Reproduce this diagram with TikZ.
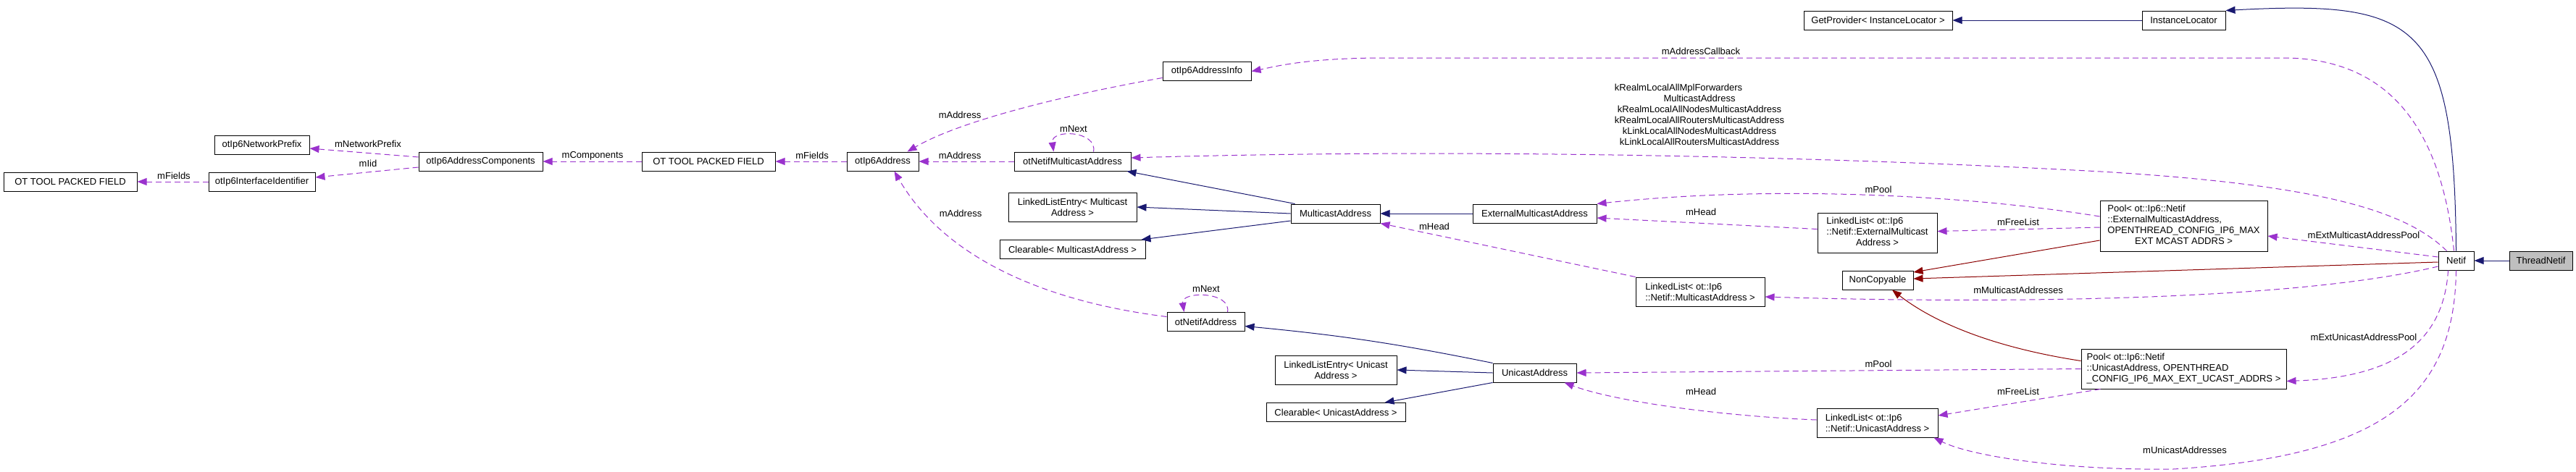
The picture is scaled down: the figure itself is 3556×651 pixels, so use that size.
\documentclass[tikz,border=0pt]{standalone}
\usepackage{fontspec}
\setmainfont{Liberation Sans}
\usetikzlibrary{arrows.meta}
\definecolor{cInherit}{RGB}{25, 25, 112}
\definecolor{cPrivate}{RGB}{139, 0, 0}
\definecolor{cUsage}{RGB}{154, 50, 205}
\definecolor{cFocus}{RGB}{191, 191, 191}
\newcommand{\dxFont}{\fontsize{13}{15}\selectfont}

\begin{document}
\begin{tikzpicture}[
    x=1pt,
    y=-1pt,
    font=\dxFont,
    classBox/.style={draw=black, fill=white, line width=1pt, minimum height=26pt, inner xsep=2pt, inner ysep=1pt, align=center},
    inheritEdge/.style={draw=cInherit, line width=1pt, -{Triangle[length=13pt, width=10pt]}},
    privateEdge/.style={draw=cPrivate, line width=1pt, -{Triangle[length=13pt, width=10pt]}},
    usageEdge/.style={draw=cUsage, line width=1pt, dash pattern=on 8pt off 5pt, -{Triangle[length=13pt, width=10pt]}},
    edgeLabel/.style={inner sep=0pt, align=center}
]

    \useasboundingbox (0,0) rectangle (3556,651);

    % --- Klassen links ---
    \node (otPackedA) at (97,251) [classBox, minimum width=184pt] {OT TOOL PACKED FIELD};
    \node (ifaceId) at (361.5,251) [classBox, minimum width=147pt] {otIp6InterfaceIdentifier};
    \node (netPrefix) at (361.5,200) [classBox, minimum width=131pt] {otIp6NetworkPrefix};
    \node (addrComp) at (663.5,223) [classBox, minimum width=171pt] {otIp6AddressComponents};
    \node (otPackedB) at (978,223) [classBox, minimum width=184pt] {OT TOOL PACKED FIELD};
    \node (ip6Addr) at (1218.5,223) [classBox, minimum width=99pt] {otIp6Address};
    \node (addrInfo) at (1666,98.5) [classBox, minimum width=122pt] {otIp6AddressInfo};

    % --- Multicast ---
    \node (netifMcast) at (1480.5,223) [classBox, minimum width=161pt] {otNetifMulticastAddress};
    \node (llEntryMcast) at (1480.5,286) [classBox, minimum width=177pt, minimum height=40pt] {LinkedListEntry< Multicast\\Address >};
    \node (clearMcast) at (1480.5,344.5) [classBox, minimum width=201pt] {Clearable< MulticastAddress >};
    \node (mcastAddr) at (1843.5,295) [classBox, minimum width=123pt] {MulticastAddress};
    \node (extMcast) at (2118.5,295) [classBox, minimum width=171pt] {ExternalMulticastAddress};
    \node (llExtMcast) at (2591.5,321.5) [classBox, minimum width=165pt, minimum height=55pt] {\begin{tabular}{@{}l@{}}LinkedList< ot::Ip6\\::Netif::ExternalMulticast\\\multicolumn{1}{@{}c@{}}{Address >}\end{tabular}};
    \node (llMcast) at (2347,403) [classBox, minimum width=178pt, minimum height=40pt, align=left] {LinkedList< ot::Ip6\\::Netif::MulticastAddress >};

    % --- Unicast ---
    \node (netifAddr) at (1664.5,444.5) [classBox, minimum width=107pt] {otNetifAddress};
    \node (llEntryUcast) at (1844,511) [classBox, minimum width=168pt, minimum height=40pt] {LinkedListEntry< Unicast\\Address >};
    \node (clearUcast) at (1844,569.5) [classBox, minimum width=192pt] {Clearable< UnicastAddress >};
    \node (ucastAddr) at (2118.5,515) [classBox, minimum width=115pt] {UnicastAddress};
    \node (llUcast) at (2591.5,584) [classBox, minimum width=167pt, minimum height=40pt, align=left] {LinkedList< ot::Ip6\\::Netif::UnicastAddress >};

    % --- Pools, Basis, Netif ---
    \node (nonCopy) at (2592,387) [classBox, minimum width=98pt] {NonCopyable};
    \node (poolExt) at (3014.5,312) [classBox, minimum width=231pt, minimum height=70pt] {\begin{tabular}{@{}l@{}}Pool< ot::Ip6::Netif\\::ExternalMulticastAddress,\\\multicolumn{1}{@{}c@{}}{OPENTHREAD\_CONFIG\_IP6\_MAX}\\\multicolumn{1}{@{}c@{}}{EXT MCAST ADDRS >}\end{tabular}};
    \node (poolUcast) at (3014.5,509.5) [classBox, minimum width=283pt, minimum height=55pt, align=left] {Pool< ot::Ip6::Netif\\::UnicastAddress, OPENTHREAD\\\_CONFIG\_IP6\_MAX\_EXT\_UCAST\_ADDRS >};
    \node (getProv) at (2592.5,28) [classBox, minimum width=205pt] {GetProvider< InstanceLocator >};
    \node (instLoc) at (3014.5,28) [classBox, minimum width=115pt] {InstanceLocator};
    \node (netif) at (3390.5,360) [classBox, minimum width=49pt] {Netif};
    \node (threadNetif) at (3507.5,360) [classBox, fill=cFocus, minimum width=87pt] {ThreadNetif};

    % --- Vererbung ---
    \draw[inheritEdge] (threadNetif.west) -- (netif.east);
    \draw[inheritEdge] (netif.north) .. controls (3388,30) and (3340,0) .. (instLoc.north east);
    \draw[inheritEdge] (instLoc.west) -- (getProv.east);
    \draw[inheritEdge] ([xshift=6pt]mcastAddr.north west) -- ([xshift=-6pt]netifMcast.south east);
    \draw[inheritEdge] (mcastAddr.west) -- (llEntryMcast.east);
    \draw[inheritEdge] ([yshift=-10pt]mcastAddr.west) -- ([xshift=-6pt]clearMcast.north east);
    \draw[inheritEdge] (extMcast.west) -- (mcastAddr.east);
    \draw[inheritEdge] (ucastAddr.north west) to[bend right=3] ([yshift=-6pt]netifAddr.east);
    \draw[inheritEdge] (ucastAddr.west) -- (llEntryUcast.east);
    \draw[inheritEdge] (ucastAddr.south west) -- ([xshift=-29pt]clearUcast.north east);

    % private Vererbung
    \draw[privateEdge] ([yshift=-20pt]poolExt.west) -- ([yshift=11pt]nonCopy.east);
    \draw[privateEdge] ([yshift=-2pt]netif.west) -- ([yshift=2pt]nonCopy.east);
    \draw[privateEdge] ([yshift=11pt]poolUcast.west) .. controls (2720,475) and (2650,430) .. ([xshift=20pt]nonCopy.south);

    % --- Member (gestrichelt) ---
    \draw[usageEdge] (ifaceId.west) -- (otPackedA.east) node[edgeLabel] at (240,243) {mFields};
    \draw[usageEdge] ([yshift=6pt]addrComp.west) -- ([yshift=-5pt]netPrefix.east) node[edgeLabel] at (508,199) {mNetworkPrefix};
    \draw[usageEdge] ([yshift=-8pt]addrComp.west) -- ([yshift=6pt]ifaceId.east) node[edgeLabel] at (508,226) {mIid};
    \draw[usageEdge] (otPackedB.west) -- (addrComp.east) node[edgeLabel] at (818,215) {mComponents};
    \draw[usageEdge] (ip6Addr.west) -- (otPackedB.east) node[edgeLabel] at (1121,215) {mFields};
    \draw[usageEdge] (netifMcast.west) -- (ip6Addr.east) node[edgeLabel] at (1325,215) {mAddress};
    \draw[usageEdge] ([yshift=-9pt]addrInfo.west) .. controls (1450,135) and (1320,170) .. ([xshift=-16pt]ip6Addr.north east) node[edgeLabel] at (1325,159) {mAddress};
    \draw[usageEdge] ([yshift=7pt]netifAddr.west) .. controls (1430,415) and (1300,350) .. ([xshift=16pt]ip6Addr.south) node[edgeLabel] at (1326,295) {mAddress};
    \draw[usageEdge] ([xshift=29pt]netifMcast.north) .. controls (1515,180) and (1450,178) .. ([xshift=-26pt]netifMcast.north) node[edgeLabel] at (1482,178) {mNext};
    \draw[usageEdge] ([xshift=30pt]netifAddr.north) .. controls (1700,402) and (1630,402) .. ([xshift=-30pt]netifAddr.north) node[edgeLabel] at (1665,399) {mNext};
    \draw[usageEdge] (llMcast.north west) -- (mcastAddr.south east) node[edgeLabel] at (1980,313) {mHead};
    \draw[usageEdge] ([yshift=5pt]llExtMcast.west) -- ([yshift=-6pt]extMcast.east) node[edgeLabel] at (2348,293) {mHead};
    \draw[usageEdge] ([yshift=13pt]poolExt.west) .. controls (2720,270) and (2450,255) .. (extMcast.north east) node[edgeLabel] at (2593,262) {mPool};
    \draw[usageEdge] ([yshift=-2pt]poolExt.west) -- ([yshift=2pt]llExtMcast.east) node[edgeLabel] at (2786,307) {mFreeList};
    \draw[usageEdge] (poolUcast.west) -- (ucastAddr.east) node[edgeLabel] at (2593,503) {mPool};
    \draw[usageEdge] ([xshift=27pt]poolUcast.south west) -- ([yshift=10pt]llUcast.east) node[edgeLabel] at (2786,541) {mFreeList};
    \draw[usageEdge] ([yshift=4pt]llUcast.west) .. controls (2380,575) and (2230,555) .. ([xshift=-17pt]ucastAddr.south east) node[edgeLabel] at (2348,541) {mHead};

    % von Netif
    \draw[usageEdge] ([yshift=-8pt]netif.west) .. controls (3150,420) and (2700,418) .. ([yshift=-7pt]llMcast.east) node[edgeLabel] at (2786,401) {mMulticastAddresses};
    \draw[usageEdge] ([yshift=5pt]netif.west) -- ([yshift=-14pt]poolExt.east) node[edgeLabel] at (3263,325) {mExtMulticastAddressPool};
    \draw[usageEdge] ([xshift=-11pt]netif.south) .. controls (3372,490) and (3280,522) .. ([yshift=-17pt]poolUcast.east) node[edgeLabel] at (3263,466) {mExtUnicastAddressPool};
    \draw[usageEdge] (netif.south) .. controls (3388,540) and (3300,630) .. (3000,648) .. controls (2850,650) and (2720,630) .. ([xshift=-6pt]llUcast.south east) node[edgeLabel] at (3016,622) {mUnicastAddresses};
    \draw[usageEdge] ([xshift=-3pt]netif.north) .. controls (3370,180) and (3300,80) .. (3151,80) -- (1900,80) .. controls (1800,81) and (1760,92) .. (addrInfo.east) node[edgeLabel] at (2348,71) {mAddressCallback};
    \draw[usageEdge] ([xshift=-13pt]netif.north) .. controls (3320,290) and (3200,255) .. (2900,237) .. controls (2500,215) and (2000,205) .. ([yshift=5pt]netifMcast.east)
        node[edgeLabel] at (2346,160) {\begin{tabular}{@{}c@{}}\multicolumn{1}{@{}l@{}}{kRealmLocalAllMplForwarders}\\MulticastAddress\\kRealmLocalAllNodesMulticastAddress\\kRealmLocalAllRoutersMulticastAddress\\kLinkLocalAllNodesMulticastAddress\\kLinkLocalAllRoutersMulticastAddress\end{tabular}};

\end{tikzpicture}
\end{document}
